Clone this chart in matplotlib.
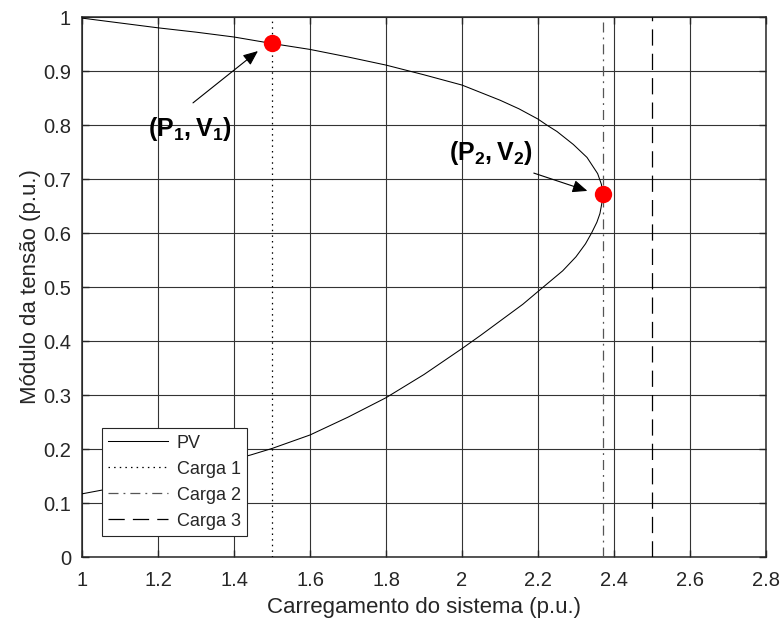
import numpy as np
import matplotlib
matplotlib.use("Agg")
import matplotlib.pyplot as plt

plt.rcParams['font.family'] = ['Liberation Sans', 'DejaVu Sans']
plt.rcParams['mathtext.fontset'] = 'custom'
plt.rcParams['mathtext.rm'] = 'Liberation Sans'
plt.rcParams['mathtext.bf'] = 'Liberation Sans:bold'

# curva PV (carregamento x modulo da tensao), ramo superior e depois o inferior
pv_p = [1.000, 1.100, 1.200, 1.300, 1.400, 1.500, 1.600, 1.700, 1.800, 1.900,
        2.000, 2.100, 2.150, 2.200, 2.223, 2.250, 2.293, 2.329, 2.357, 2.367,
        2.370, 2.368, 2.363, 2.355, 2.341, 2.325, 2.300, 2.265, 2.214, 2.160,
        2.104, 2.050, 2.000, 1.900, 1.800, 1.700, 1.600, 1.500, 1.444, 1.400,
        1.300, 1.200, 1.100, 1.053, 1.000]
pv_v = [0.998, 0.989, 0.980, 0.972, 0.963, 0.951, 0.940, 0.926, 0.911, 0.893,
        0.874, 0.846, 0.830, 0.811, 0.800, 0.788, 0.764, 0.740, 0.710, 0.690,
        0.672, 0.655, 0.636, 0.620, 0.600, 0.580, 0.556, 0.530, 0.500, 0.468,
        0.439, 0.411, 0.386, 0.338, 0.295, 0.259, 0.226, 0.201, 0.189, 0.181,
        0.165, 0.148, 0.132, 0.124, 0.117]

# cargas
carga_p = [1.5, 2.37, 2.5]
carga_nomes = ['Carga 1', 'Carga 2', 'Carga 3']

# pontos de operacao
p_op = [1.5, 2.37]
v_op = [0.951, 0.672]

cor_eixo = '#262626'

fig = plt.figure(figsize=(7.82, 6.26), dpi=100)
ax = fig.add_axes([0.1049, 0.1102, 0.8746, 0.8626])

ax.plot(pv_p, pv_v, color='k', lw=0.75, label='PV', zorder=3)
ax.axvline(carga_p[0], color='k', lw=0.9, linestyle=(0, (1.2, 3.3)), label=carga_nomes[0], zorder=3)
ax.axvline(carga_p[1], color='#555555', lw=0.9, linestyle=(0, (8, 4, 1.5, 4)), label=carga_nomes[1], zorder=3)
ax.axvline(carga_p[2], color='k', lw=0.9, linestyle=(0, (13, 6.5)), label=carga_nomes[2], zorder=3)

ax.plot(p_op, v_op, 'o', color='red', markersize=12.5, markeredgewidth=0, zorder=4)

# setas e rotulos dos pontos
seta = dict(arrowstyle='-|>,head_length=0.9,head_width=0.38', color='k', lw=0.8,
            shrinkA=0, shrinkB=0)
ax.annotate('', xy=(1.463, 0.937), xytext=(1.292, 0.841), arrowprops=seta, zorder=5)
ax.annotate('', xy=(2.330, 0.678), xytext=(2.189, 0.711), arrowprops=seta, zorder=5)
ax.text(1.284, 0.792, r'$\mathbf{(P_1,V_1)}$', fontsize=18, ha='center', va='center',
        zorder=5)
ax.text(2.075, 0.749, r'$\mathbf{(P_2,V_2)}$', fontsize=18, ha='center', va='center',
        zorder=5)

ax.set_xlim(1, 2.8)
ax.set_ylim(0, 1)
xt = np.round(np.arange(1, 2.81, 0.2), 1)
yt = np.round(np.arange(0, 1.01, 0.1), 1)
ax.set_xticks(xt)
ax.set_yticks(yt)
ax.set_xticklabels(['%g' % t for t in xt])
ax.set_yticklabels(['%g' % t for t in yt])
ax.tick_params(direction='in', length=5, width=1.0, color=cor_eixo,
               labelsize=14.5, labelcolor=cor_eixo, top=True, right=True)
ax.tick_params(axis='x', pad=10)
ax.tick_params(axis='y', pad=8)
for s in ax.spines.values():
    s.set_color(cor_eixo)
    s.set_linewidth(1.1)
ax.grid(True, color='#333333', lw=0.8, zorder=0)
ax.set_axisbelow(True)

ax.set_xlabel('Carregamento do sistema (p.u.)', fontsize=16, color=cor_eixo, labelpad=5)
ax.set_ylabel('Módulo da tensão (p.u.)', fontsize=16, color=cor_eixo, labelpad=1.5)

leg = ax.legend(loc='lower left', bbox_to_anchor=(0.029, 0.039), borderaxespad=0,
                fontsize=13, handlelength=3.3, handletextpad=0.5, labelspacing=0.5,
                fancybox=False, framealpha=1, edgecolor=cor_eixo, borderpad=0.35)
leg.get_frame().set_linewidth(0.8)
for t in leg.get_texts():
    t.set_color(cor_eixo)

fig.savefig('out.png', dpi=100)
